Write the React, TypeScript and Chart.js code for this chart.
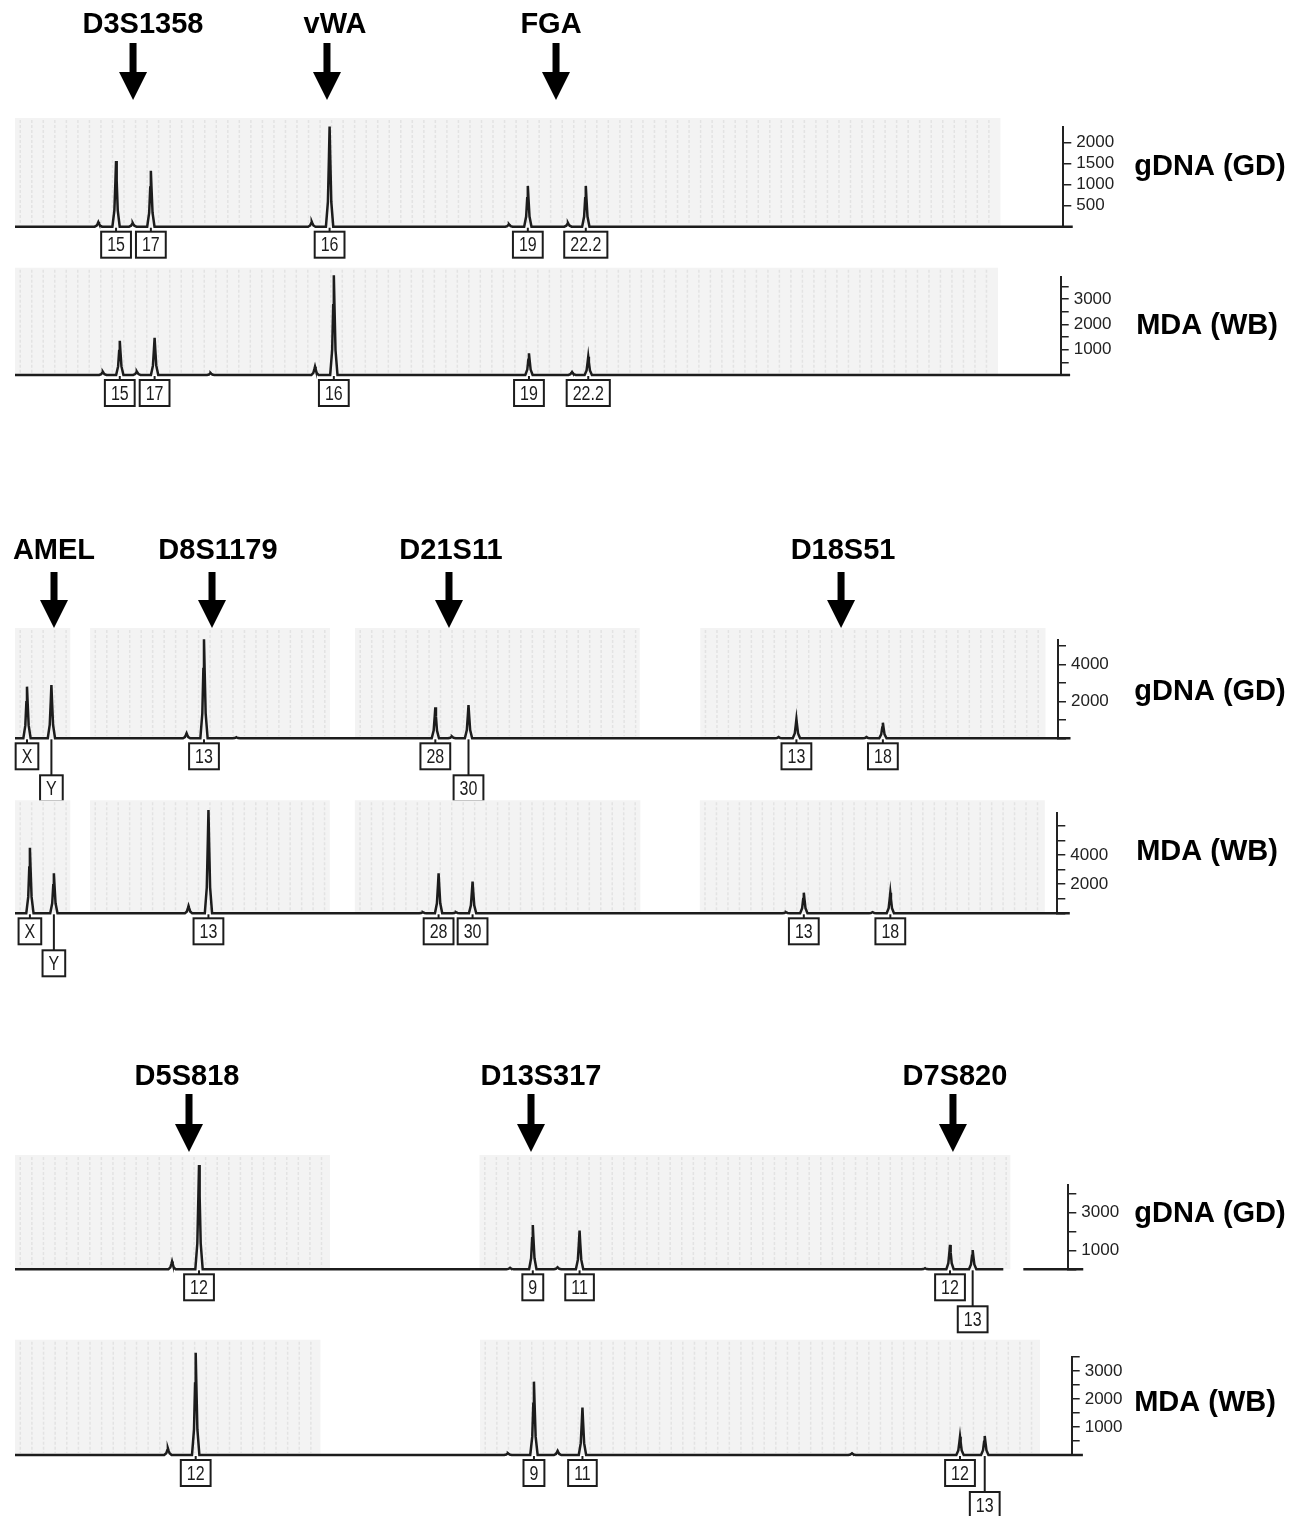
import React, { useEffect, useRef } from 'react';
import { Chart, registerables } from 'chart.js';

Chart.register(...registerables);

// ---------------- DATA ----------------
// Locus headers (x in relative migration units, 0..1000)
const row1Loci = ['D3S1358', 'vWA', 'FGA'];
const row1ArrowX = [112.6, 297.6, 516.1];
const row1LabelX = [122.1, 305.2, 511.3];

const row2Loci = ['AMEL', 'D8S1179', 'D21S11', 'D18S51'];
const row2ArrowX = [37.4, 188.9, 416.1, 792.0];
const row2LabelX = [37.4, 194.6, 418.0, 793.9];

const row3Loci = ['D5S818', 'D13S317', 'D7S820'];
const row3ArrowX = [165.2, 489.9, 890.5];
const row3LabelX = [163.3, 499.4, 892.4];

// Row 1 – gDNA (GD)
const gd1PeakX = [79.5, 96.4, 112.3, 129.6, 283.1, 300.1, 471.2, 489.2, 527.5, 544.5];
const gd1PeakH = [110, 1560, 90, 1330, 120, 2380, 60, 970, 90, 970];
const gd1Allele = ['', '15', '', '17', '', '16', '', '19', '', '22.2'];
const gd1Row = [0, 0, 0, 0, 0, 0, 0, 0, 0, 0];
const gd1Labels = [500, 1000, 1500, 2000];

// Row 1 – MDA (WB)
const mda1PeakX = [84.0, 100.2, 116.5, 133.5, 187.1, 286.9, 304.9, 491.5, 532.7, 548.2];
const mda1PeakH = [130, 1356, 140, 1474, 80, 330, 3950, 857, 120, 725];
const mda1Allele = ['', '15', '', '17', '', '', '16', '19', '', '22.2'];
const mda1Row = [0, 0, 0, 0, 0, 0, 0, 0, 0, 0];
const mda1Labels = [1000, 2000, 3000];

// Row 2 – gDNA (GD)
const gd2PeakX = [11.5, 34.9, 164.5, 181.2, 212.2, 403.0, 418.9, 434.8, 732.1, 749.2, 816.4, 832.1];
const gd2PeakH = [2790, 2880, 270, 5350, 60, 1675, 100, 1800, 70, 1027, 70, 843];
const gd2Allele = ['X', 'Y', '', '13', '', '28', '', '30', '', '13', '', '18'];
const gd2Row = [0, 1, 0, 0, 0, 0, 0, 1, 0, 0, 0, 0];
const gd2Labels = [2000, 4000];

// Row 2 – MDA (WB)
const mda2PeakX = [14.3, 37.3, 166.5, 185.6, 391.3, 406.4, 423.1, 439.0, 739.7, 756.8, 822.8, 839.8];
const mda2PeakH = [4490, 2740, 500, 7075, 80, 2740, 80, 2165, 80, 1411, 80, 1411];
const mda2Allele = ['X', 'Y', '', '13', '', '28', '', '30', '', '13', '', '18'];
const mda2Row = [0, 1, 0, 0, 0, 0, 0, 0, 0, 0, 0, 0];
const mda2Labels = [2000, 4000];

// Row 3 – gDNA (GD)
const gd3PeakX = [149.1, 174.7, 470.0, 491.6, 515.1, 536.0, 864.0, 887.7, 909.2];
const gd3PeakH = [420, 5530, 80, 2350, 110, 2050, 60, 1290, 1020];
const gd3Allele = ['', '12', '', '9', '', '11', '', '12', '13'];
const gd3Row = [0, 0, 0, 0, 0, 0, 0, 0, 1];
const gd3Labels = [1000, 3000];

// Row 3 – MDA (WB)
const mda3PeakX = [144.7, 171.0, 466.5, 491.1, 513.5, 537.0, 792.1, 894.3, 917.7];
const mda3PeakH = [240, 3650, 60, 2620, 150, 1690, 60, 654, 679];
const mda3Allele = ['', '12', '', '9', '', '11', '', '12', '13'];
const mda3Row = [0, 0, 0, 0, 0, 0, 0, 0, 1];
const mda3Labels = [1000, 2000, 3000];

// ---------------- LAYOUT / STYLE ----------------
const FONT = '"Liberation Sans", Arial, Helvetica, sans-serif';
const W = 1294;
const AXIS_W = 60;
const INK = '#1c1c1c';
const PEAK_DX = [-3.5, -1.6, -0.6, 0, 0.6, 1.6, 3.5];
const PEAK_FY = [0, 0.25, 0.7, 1, 0.7, 0.25, 0];

type Header = { loci: string[]; arrowX: number[]; labelX: number[]; labelAbove: number; shaftAbove: number; tipAbove: number };
type Panel = {
  top: number; height: number; padTop: number; padBottom: number; axisX: number;
  peakX: number[]; peakH: number[]; labels: string[]; rows: number[];
  segments: number[][]; yMax: number; yStep: number; yLabels: number[];
  side: string; sideValue: number; sideX: number;
  shade: number[][]; shadeAbove: number; header?: Header;
};

const panels: Panel[] = [
  {
    top: 0, height: 275, padTop: 127, padBottom: 48.3, axisX: 1063.3,
    peakX: gd1PeakX, peakH: gd1PeakH, labels: gd1Allele, rows: gd1Row,
    segments: [[0, 1009]], yMax: 2370, yStep: 500, yLabels: gd1Labels,
    side: 'gDNA (GD)', sideValue: 1420, sideX: 1210,
    shade: [[0, 940]], shadeAbove: 9,
    header: { loci: row1Loci, arrowX: row1ArrowX, labelX: row1LabelX, labelAbove: 102, shaftAbove: 84, tipAbove: 27 },
  },
  {
    top: 250, height: 180, padTop: 26.7, padBottom: 55, axisX: 1060.7,
    peakX: mda1PeakX, peakH: mda1PeakH, labels: mda1Allele, rows: mda1Row,
    segments: [[0, 1009]], yMax: 3890, yStep: 500, yLabels: mda1Labels,
    side: 'MDA (WB)', sideValue: 1940, sideX: 1207,
    shade: [[0, 940]], shadeAbove: 9,
  },
  {
    top: 520, height: 290, padTop: 120, padBottom: 71.7, axisX: 1058,
    peakX: gd2PeakX, peakH: gd2PeakH, labels: gd2Allele, rows: gd2Row,
    segments: [[0, 1012]], yMax: 5310, yStep: 1000, yLabels: gd2Labels,
    side: 'gDNA (GD)', sideValue: 2500, sideX: 1210,
    shade: [[0, 53], [72, 302], [326, 599], [657, 988]], shadeAbove: 12,
    header: { loci: row2Loci, arrowX: row2ArrowX, labelX: row2LabelX, labelAbove: 89, shaftAbove: 68, tipAbove: 12 },
  },
  {
    top: 790, height: 200, padTop: 23.3, padBottom: 76.7, axisX: 1057.3,
    peakX: mda2PeakX, peakH: mda2PeakH, labels: mda2Allele, rows: mda2Row,
    segments: [[0, 1012]], yMax: 6850, yStep: 1000, yLabels: mda2Labels,
    side: 'MDA (WB)', sideValue: 4200, sideX: 1207,
    shade: [[0, 53], [72, 302], [326, 600], [657, 988]], shadeAbove: 13,
  },
  {
    top: 1045, height: 300, padTop: 140, padBottom: 75.7, axisX: 1068.3,
    peakX: gd3PeakX, peakH: gd3PeakH, labels: gd3Allele, rows: gd3Row,
    segments: [[0, 938.3], [957.3, 1014.2]], yMax: 4470, yStep: 1000, yLabels: gd3Labels,
    side: 'gDNA (GD)', sideValue: 2930, sideX: 1210,
    shade: [[0, 299], [441, 945]], shadeAbove: 30,
    header: { loci: row3Loci, arrowX: row3ArrowX, labelX: row3LabelX, labelAbove: 108, shaftAbove: 91, tipAbove: 33 },
  },
  {
    top: 1325, height: 191, padTop: 31.7, padBottom: 61, axisX: 1071.7,
    peakX: mda3PeakX, peakH: mda3PeakH, labels: mda3Allele, rows: mda3Row,
    segments: [[0, 1010.6]], yMax: 3510, yStep: 500, yLabels: mda3Labels,
    side: 'MDA (WB)', sideValue: 1860, sideX: 1205,
    shade: [[0, 289], [440, 970]], shadeAbove: 17,
  },
];

function buildTrace(p: Panel) {
  const pts: { x: number; y: number | null }[] = [];
  p.segments.forEach(([s, e], si) => {
    pts.push({ x: s, y: 0 });
    p.peakX.forEach((px, i) => {
      if (px > s && px < e) {
        PEAK_DX.forEach((dx, k) => pts.push({ x: px + dx, y: p.peakH[i] * PEAK_FY[k] }));
      }
    });
    pts.push({ x: e, y: 0 });
    if (si < p.segments.length - 1) pts.push({ x: e + 0.5, y: null });
  });
  return pts;
}

function tickValues(p: Panel) {
  const out: { value: number }[] = [];
  for (let v = 0; v <= p.yMax + 1e-6; v += p.yStep) out.push({ value: v });
  return out;
}

function makePlugin(p: Panel) {
  return {
    id: 'stpDeco',
    beforeDatasetsDraw(chart: any) {
      const { ctx, chartArea } = chart;
      const xs = chart.scales.x;
      ctx.save();
      p.shade.forEach(([a, b]) => {
        const x1 = xs.getPixelForValue(a);
        const x2 = xs.getPixelForValue(b);
        const top = chartArea.top - p.shadeAbove;
        ctx.fillStyle = '#f3f3f3';
        ctx.fillRect(x1, top, x2 - x1, chartArea.bottom - top);
        ctx.strokeStyle = '#e3e3e3';
        ctx.lineWidth = 1.5;
        ctx.setLineDash([3, 2]);
        for (let v = a + 5; v < b; v += 11) {
          const x = xs.getPixelForValue(v);
          ctx.beginPath();
          ctx.moveTo(x, top + 2);
          ctx.lineTo(x, chartArea.bottom - 2);
          ctx.stroke();
        }
        ctx.setLineDash([]);
      });
      ctx.restore();
    },
    afterDatasetsDraw(chart: any) {
      const { ctx, chartArea } = chart;
      const xs = chart.scales.x;
      const ys = chart.scales.y;
      ctx.save();
      // allele boxes
      ctx.strokeStyle = INK;
      ctx.fillStyle = INK;
      ctx.lineWidth = 2;
      ctx.font = `20px ${FONT}`;
      const base = ys.getPixelForValue(0);
      p.labels.forEach((lab, i) => {
        if (!lab) return;
        const x = xs.getPixelForValue(p.peakX[i]);
        const top = base + 5 + p.rows[i] * 32;
        const w = ctx.measureText(lab).width * 0.8 + 12;
        const h = 26;
        ctx.beginPath();
        ctx.moveTo(x, base + 1);
        ctx.lineTo(x, top);
        ctx.stroke();
        ctx.fillStyle = '#ffffff';
        ctx.fillRect(x - w / 2, top, w, h);
        ctx.strokeRect(x - w / 2, top, w, h);
        ctx.fillStyle = INK;
        ctx.save();
        ctx.translate(x, top + h / 2 + 1);
        ctx.scale(0.8, 1);
        ctx.textAlign = 'center';
        ctx.textBaseline = 'middle';
        ctx.fillText(lab, 0, 0);
        ctx.restore();
      });
      // side label
      ctx.fillStyle = '#000';
      ctx.font = `bold 29px ${FONT}`;
      ctx.textAlign = 'center';
      ctx.textBaseline = 'middle';
      ctx.fillText(p.side, p.sideX, ys.getPixelForValue(p.sideValue));
      // locus header
      if (p.header) {
        const hd = p.header;
        hd.loci.forEach((name, i) => {
          ctx.fillText(name, xs.getPixelForValue(hd.labelX[i]), chartArea.top - hd.labelAbove);
          const ax = xs.getPixelForValue(hd.arrowX[i]);
          const tip = chartArea.top - hd.tipAbove;
          const headH = 28;
          const shaftTop = chartArea.top - hd.shaftAbove;
          ctx.fillRect(ax - 3.5, shaftTop, 7, tip - headH - shaftTop + 1);
          ctx.beginPath();
          ctx.moveTo(ax - 14, tip - headH);
          ctx.lineTo(ax + 14, tip - headH);
          ctx.lineTo(ax, tip);
          ctx.closePath();
          ctx.fill();
        });
      }
      ctx.restore();
    },
  };
}

function PanelChart({ p }: { p: Panel }) {
  const ref = useRef<HTMLCanvasElement | null>(null);
  useEffect(() => {
    if (!ref.current) return;
    const chart = new Chart(ref.current, {
      type: 'line',
      data: {
        datasets: [
          {
            data: buildTrace(p) as any,
            borderColor: INK,
            borderWidth: 2.5,
            pointRadius: 0,
            tension: 0,
            spanGaps: false,
            clip: false as any,
            fill: false,
          },
        ],
      },
      options: {
        responsive: false,
        animation: false,
        events: [],
        layout: { padding: { left: 15, right: W - p.axisX - AXIS_W, top: p.padTop, bottom: p.padBottom } },
        plugins: { legend: { display: false }, tooltip: { enabled: false }, title: { display: false } },
        scales: {
          x: { type: 'linear', min: 0, max: 1000, display: false },
          y: {
            position: 'right',
            min: 0,
            max: p.yMax,
            afterFit: (s: any) => { s.width = AXIS_W; },
            afterBuildTicks: (s: any) => { s.ticks = tickValues(p); },
            ticks: {
              autoSkip: false,
              padding: 5,
              color: '#222',
              font: { size: 17, family: FONT },
              callback: (v: any) => (p.yLabels.includes(Number(v)) ? String(v) : ''),
            },
            grid: { drawOnChartArea: false, drawTicks: true, tickLength: 8, color: '#222', lineWidth: 1.5 },
            border: { display: true, color: '#222', width: 2 },
          },
        },
      } as any,
      plugins: [makePlugin(p)],
    });
    return () => chart.destroy();
  }, [p]);
  return (
    <canvas
      ref={ref}
      width={W}
      height={p.height}
      style={{ position: 'absolute', left: 0, top: p.top, width: W, height: p.height }}
    />
  );
}

export default function App() {
  return (
    <div style={{ position: 'absolute', left: 0, top: 0, width: W, height: 1516, background: '#fff', overflow: 'hidden' }}>
      {panels.map((p, i) => (
        <PanelChart key={i} p={p} />
      ))}
    </div>
  );
}
